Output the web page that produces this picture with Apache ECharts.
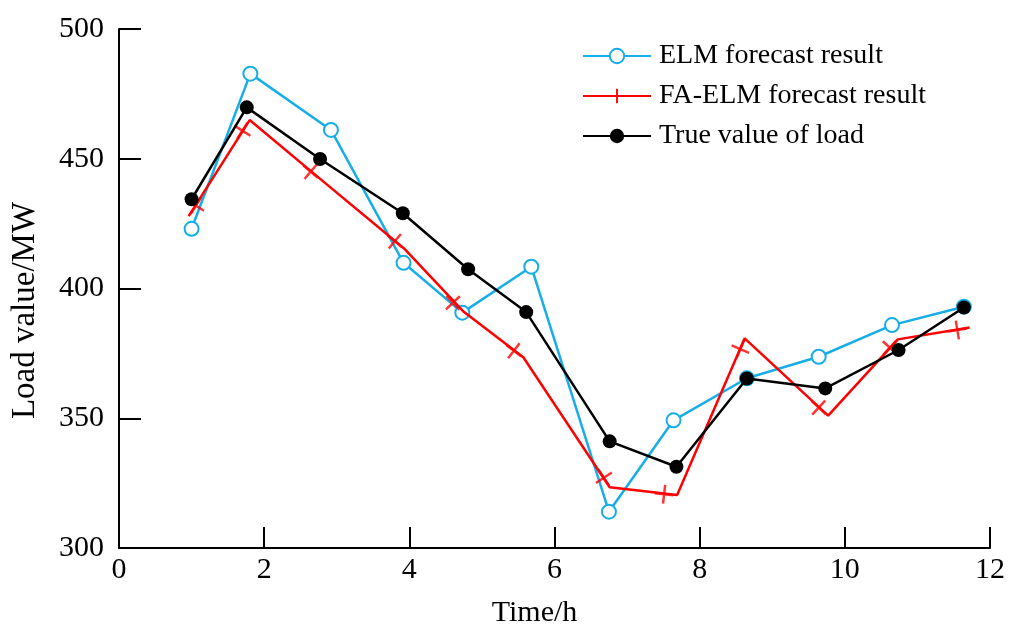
<!DOCTYPE html>
<html>
<head>
<meta charset="utf-8">
<script src="https://cdn.jsdelivr.net/npm/echarts@6/dist/echarts.min.js"></script>
<style>
html, body { margin: 0; padding: 0; background: #fff; }
#chart { width: 1009px; height: 630px; }
</style>
</head>
<body>
<div id="chart"></div>
<script>
// ELM forecast result (blue, open circles)
var elmX = [1.0, 1.81, 2.92, 3.92, 4.73, 5.68, 6.75, 7.64, 8.65, 9.64, 10.65, 11.64];
var elmY = [423.0, 482.8, 461.1, 409.9, 390.7, 408.4, 314.0, 349.2, 365.4, 373.7, 385.9, 393.0];

// FA-ELM forecast result (red line vertices)
var faX = [0.96, 1.80, 2.85, 3.94, 4.75, 5.57, 6.76, 7.69, 8.62, 9.77, 10.73, 11.72];
var faY = [427.9, 464.9, 440.4, 415.1, 391.0, 373.5, 323.4, 320.4, 380.8, 351.0, 380.4, 385.0];

// FA-ELM "+" markers (drawn slightly off the vertices in the original)
var faMarkX = [1.06, 1.70, 2.64, 3.80, 4.60, 5.44, 6.68, 7.51, 8.56, 9.64, 10.62, 11.55];
var faMarkY = [431.9, 460.8, 445.0, 418.2, 394.5, 376.0, 327.1, 320.7, 376.6, 354.1, 377.2, 384.0];

// True value of load (black, filled circles)
var trueX = [1.0, 1.76, 2.77, 3.91, 4.81, 5.61, 6.76, 7.68, 8.65, 9.73, 10.74, 11.64];
var trueY = [434.4, 469.8, 449.9, 429.0, 407.4, 390.9, 341.1, 331.3, 365.3, 361.5, 376.3, 392.7];

var xTicks = [0, 2, 4, 6, 8, 10, 12];
var yTicks = [300, 350, 400, 450, 500];

var names = ['ELM forecast result', 'FA-ELM forecast result', 'True value of load'];

function pairs(xs, ys) {
	var out = [];
	for (var i = 0; i < xs.length; i++) {
		out.push([xs[i], ys[i]]);
	}
	return out;
}

var FONT = 'Liberation Serif';
var gridL = 119, gridR = 19, gridT = 29, gridB = 82;
var pxPerX = (1009 - gridL - gridR) / (xTicks[xTicks.length - 1] - xTicks[0]);
var pxPerY = (630 - gridT - gridB) / (yTicks[yTicks.length - 1] - yTicks[0]);

// rotate each "+" so one arm follows the red line
function markRotate(value) {
	var x = value[0];
	var k = 0;
	while (k < faX.length - 2 && x > faX[k + 1]) k++;
	var dx = (faX[k + 1] - faX[k]) * pxPerX;
	var dy = (faY[k + 1] - faY[k]) * pxPerY;
	return Math.atan2(dy, dx) * 180 / Math.PI;
}

var plusPath = 'path://M0,8.7 L20,8.7 L20,11.3 L0,11.3 Z M8.7,0 L11.3,0 L11.3,20 L8.7,20 Z';

var chart = echarts.init(document.getElementById('chart'));

var option = {
	backgroundColor: '#ffffff',
	animation: false,
	textStyle: { fontFamily: FONT },
	grid: { left: gridL, right: gridR, top: gridT, bottom: gridB, containLabel: false, outerBoundsMode: 'none' },
	legend: {
		orient: 'vertical',
		left: 577,
		top: 37,
		itemWidth: 68,
		itemHeight: 18,
		itemGap: 12,
		data: names,
		textStyle: { fontFamily: FONT, fontSize: 28, color: '#000', padding: [0, 0, 0, 3] }
	},
	xAxis: {
		type: 'value',
		min: 0,
		max: 12,
		interval: 2,
		name: 'Time/h',
		nameLocation: 'middle',
		nameGap: 50,
		nameTextStyle: { fontFamily: FONT, fontSize: 30, color: '#000', padding: [0, 40, 0, 0] },
		axisLine: { show: true, lineStyle: { color: '#000', width: 2 } },
		axisTick: { show: true, inside: true, length: 21, lineStyle: { color: '#000', width: 2 } },
		axisLabel: { fontFamily: FONT, fontSize: 30, color: '#000', margin: 7 },
		splitLine: { show: false }
	},
	yAxis: {
		type: 'value',
		min: 300,
		max: 500,
		interval: 50,
		name: 'Load value/MW',
		nameLocation: 'middle',
		nameRotate: 90,
		nameGap: 77,
		nameTextStyle: { fontFamily: FONT, fontSize: 33, color: '#000', padding: [0, 44, 0, 0] },
		axisLine: { show: true, lineStyle: { color: '#000', width: 2 } },
		axisTick: { show: true, inside: true, length: 22, lineStyle: { color: '#000', width: 2 } },
		axisLabel: { fontFamily: FONT, fontSize: 30, color: '#000', margin: 15 },
		splitLine: { show: false }
	},
	series: [
		{
			name: names[0],
			type: 'line',
			data: pairs(elmX, elmY),
			symbol: 'emptyCircle',
			symbolSize: 14,
			lineStyle: { color: '#17AEE8', width: 2.5 },
			itemStyle: { color: '#17AEE8', borderColor: '#17AEE8', borderWidth: 2.5 },
			z: 2
		},
		{
			name: names[1],
			type: 'line',
			data: pairs(faX, faY),
			symbol: plusPath,
			symbolSize: 22,
			showSymbol: false,
			lineStyle: { color: '#FF0000', width: 2.5 },
			itemStyle: { color: '#FF0000' },
			z: 3
		},
		{
			name: 'FA-ELM markers',
			type: 'scatter',
			data: pairs(faMarkX, faMarkY),
			symbol: plusPath,
			symbolSize: 19,
			symbolRotate: markRotate,
			itemStyle: { color: '#FF0000' },
			z: 3
		},
		{
			name: names[2],
			type: 'line',
			data: pairs(trueX, trueY),
			symbol: 'circle',
			symbolSize: 14,
			lineStyle: { color: '#000', width: 2.5 },
			itemStyle: { color: '#000' },
			z: 4
		}
	]
};

chart.setOption(option);
</script>
</body>
</html>
